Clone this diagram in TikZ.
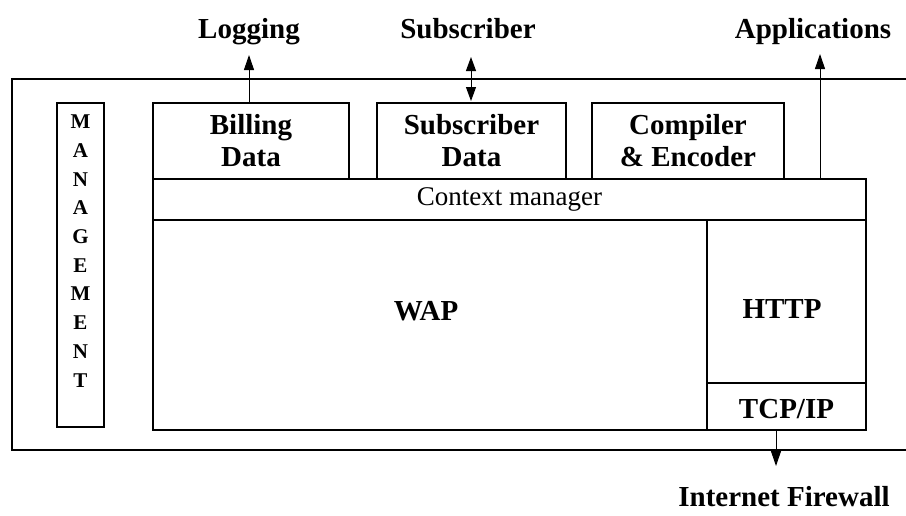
\documentclass[tikz,border=0pt]{standalone}
\usepackage{fontspec}
\setmainfont{Liberation Serif}
\usetikzlibrary{arrows.meta}
\begin{document}
\begin{tikzpicture}[x=1pt,y=-1pt,
  box/.style={draw,line width=1.3pt,inner sep=0pt,align=center,font=\fontsize{29}{32}\selectfont\bfseries},
  lbl/.style={inner sep=0pt,anchor=base,font=\fontsize{29}{32}\selectfont\bfseries},
  arr/.style={line width=1pt,-{Triangle[length=15pt,width=10pt]}},
  darr/.style={line width=1pt,{Triangle[length=14pt,width=10pt]}-{Triangle[length=14pt,width=10pt]}}]
\useasboundingbox (0,0) rectangle (906,515);
% outer frame (open on the right at picture edge)
\draw[line width=1.8pt] (906,79) -- (12,79) -- (12,450) -- (906,450);
% boxes
\node[box,minimum width=47pt,minimum height=324pt] (mgmt) at (80.5,265) {};
\node[inner sep=0pt,align=center,font=\fontsize{21}{28.7}\selectfont\bfseries] (mgmtlbl) at (80.5,251) {M\\A\\N\\A\\G\\E\\M\\E\\N\\T};
\node[box,minimum width=196pt,minimum height=76pt] (bill) at (251,141) {Billing\\Data};
\node[box,minimum width=189pt,minimum height=76pt] (subd) at (471.5,141) {Subscriber\\Data};
\node[box,minimum width=192pt,minimum height=76pt] (comp) at (688,141) {Compiler\\\& Encoder};
\node[box,minimum width=713pt,minimum height=41pt,font=\fontsize{27}{30}\selectfont] (ctx) at (509.5,199.5) {Context manager};
\node[box,minimum width=554pt,minimum height=210pt] (wap) at (430,325) {};
\node[lbl] (waplbl) at (426,320) {WAP};
\node[box,minimum width=159pt,minimum height=163pt] (http) at (786.5,301.5) {};
\node[lbl] (httplbl) at (782,318) {HTTP};
\node[box,minimum width=159pt,minimum height=47pt] (tcp) at (786.5,406.5) {};
\node[lbl] (tcplbl) at (786.5,418) {TCP/IP};
% labels
\node[lbl] (log) at (249,38) {Logging};
\node[lbl] (sub) at (468,38) {Subscriber};
\node[lbl] (app) at (813,38) {Applications};
\node[lbl] (fw) at (784,506) {Internet Firewall};
% connectors
\coordinate (billtop) at (249,103);
\coordinate (logtip) at (249,55);
\draw[arr] (billtop) -- (logtip);
\coordinate (subtop) at (471,57);
\coordinate (subbot) at (471,101);
\draw[darr] (subtop) -- (subbot);
\coordinate (appfoot) at (820,179);
\coordinate (apptip) at (820,54);
\draw[arr] (appfoot) -- (apptip);
\coordinate (tcpfoot) at (776,430);
\coordinate (fwtip) at (776,466);
\draw[arr] (tcpfoot) -- (fwtip);
\end{tikzpicture}
\end{document}
